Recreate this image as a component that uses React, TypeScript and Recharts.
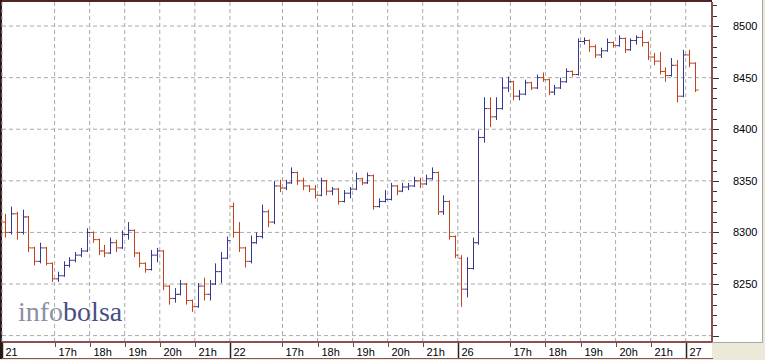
import React from 'react';
import { ComposedChart, Bar, XAxis, YAxis, CartesianGrid } from 'recharts';

// 10-minute OHLC bars per session: [open, high, low, close]
const day21 = [
  [8310, 8318, 8295, 8300], [8300, 8325, 8298, 8318], [8318, 8320, 8293, 8300], [8300, 8322, 8298, 8315],
  [8315, 8316, 8281, 8285], [8285, 8286, 8268, 8272], [8272, 8290, 8270, 8285], [8285, 8286, 8268, 8270],
  [8270, 8271, 8252, 8255], [8255, 8262, 8252, 8258], [8258, 8272, 8257, 8268], [8268, 8276, 8266, 8273],
  [8273, 8281, 8271, 8278], [8278, 8285, 8276, 8282], [8282, 8304, 8281, 8300], [8300, 8301, 8290, 8293],
  [8293, 8294, 8278, 8282], [8282, 8288, 8276, 8280], [8280, 8295, 8279, 8290], [8290, 8293, 8281, 8285],
  [8285, 8302, 8284, 8298], [8298, 8310, 8293, 8302], [8302, 8303, 8276, 8280], [8280, 8281, 8266, 8270],
  [8270, 8271, 8261, 8264], [8264, 8283, 8263, 8278], [8278, 8285, 8271, 8282], [8282, 8283, 8244, 8248],
  [8248, 8249, 8230, 8236], [8236, 8246, 8232, 8240], [8240, 8254, 8239, 8250], [8250, 8251, 8230, 8234],
  [8234, 8235, 8223, 8228], [8228, 8251, 8227, 8248], [8248, 8256, 8234, 8240], [8240, 8254, 8234, 8250],
  [8250, 8270, 8249, 8262], [8262, 8281, 8251, 8275], [8275, 8296, 8274, 8292],
];

const day22 = [
  [8325, 8329, 8295, 8300], [8300, 8310, 8281, 8285], [8285, 8286, 8266, 8272], [8272, 8297, 8270, 8290],
  [8290, 8300, 8289, 8296], [8296, 8327, 8294, 8320], [8320, 8322, 8305, 8310], [8310, 8350, 8308, 8345],
  [8345, 8351, 8339, 8343], [8343, 8351, 8341, 8348], [8348, 8363, 8347, 8358], [8358, 8359, 8346, 8350],
  [8350, 8353, 8341, 8345], [8345, 8346, 8339, 8342], [8342, 8346, 8333, 8336], [8336, 8353, 8335, 8350],
  [8350, 8351, 8336, 8340], [8340, 8344, 8336, 8342], [8342, 8343, 8327, 8330], [8330, 8341, 8329, 8338],
  [8338, 8344, 8333, 8342], [8342, 8358, 8341, 8352], [8352, 8353, 8346, 8348], [8348, 8358, 8347, 8355],
  [8355, 8356, 8322, 8325], [8325, 8333, 8324, 8330], [8330, 8341, 8329, 8332], [8332, 8348, 8331, 8345],
  [8345, 8346, 8336, 8340], [8340, 8348, 8339, 8344], [8344, 8348, 8341, 8345], [8345, 8354, 8344, 8350],
  [8350, 8353, 8343, 8347], [8347, 8356, 8346, 8352], [8352, 8363, 8351, 8358], [8358, 8359, 8317, 8320],
  [8320, 8336, 8317, 8330], [8330, 8331, 8293, 8296], [8296, 8297, 8275, 8278],
];

const day26 = [
  [8275, 8278, 8228, 8245], [8245, 8276, 8237, 8265], [8265, 8295, 8264, 8290], [8290, 8399, 8288, 8392],
  [8392, 8431, 8387, 8420], [8420, 8431, 8402, 8412], [8412, 8431, 8409, 8420], [8420, 8450, 8419, 8440],
  [8440, 8451, 8436, 8446], [8446, 8447, 8428, 8432], [8432, 8438, 8428, 8434], [8434, 8448, 8433, 8445],
  [8445, 8446, 8438, 8440], [8440, 8453, 8439, 8450], [8450, 8455, 8446, 8448], [8448, 8449, 8433, 8436],
  [8436, 8443, 8433, 8440], [8440, 8450, 8439, 8446], [8446, 8459, 8445, 8456], [8456, 8457, 8451, 8453],
  [8453, 8488, 8452, 8485], [8485, 8489, 8482, 8486], [8486, 8487, 8475, 8480], [8480, 8482, 8469, 8472],
  [8472, 8479, 8469, 8476], [8476, 8488, 8475, 8484], [8484, 8485, 8479, 8481], [8481, 8491, 8480, 8488],
  [8488, 8489, 8474, 8477], [8477, 8488, 8476, 8486], [8486, 8491, 8482, 8489], [8489, 8496, 8480, 8484],
  [8484, 8485, 8467, 8470], [8470, 8474, 8462, 8466], [8466, 8475, 8453, 8456], [8456, 8460, 8446, 8452],
  [8452, 8469, 8451, 8462], [8462, 8467, 8426, 8432], [8432, 8477, 8431, 8472],
];

const day27 = [
  [8472, 8477, 8460, 8464], [8464, 8465, 8436, 8438],
];

const sessions = [day21, day22, day26, day27];
const slotsPerSession = 39;

const xTicks = [0, 9, 15, 21, 27, 33, 39, 48, 54, 60, 66, 72, 78, 87, 93, 99, 105, 111, 117];
const xTickLabels = ['21', '17h', '18h', '19h', '20h', '21h', '22', '17h', '18h', '19h', '20h', '21h', '26', '17h', '18h', '19h', '20h', '21h', '27'];
const dayTicks = [0, 39, 78, 117];

const yTicks = [
  8200, 8210, 8220, 8230, 8240, 8250, 8260, 8270, 8280, 8290, 8300, 8310, 8320, 8330, 8340, 8350,
  8360, 8370, 8380, 8390, 8400, 8410, 8420, 8430, 8440, 8450, 8460, 8470, 8480, 8490, 8500, 8510, 8520,
];
const yLabels = [8250, 8300, 8350, 8400, 8450, 8500];
const yGrid = [8200, 8250, 8300, 8350, 8400, 8450, 8500];

const rows = sessions.flatMap((bars, d) =>
  bars.map((b, i) => ({
    slot: d * slotsPerSession + i + 0.5,
    open: b[0],
    high: b[1],
    low: b[2],
    close: b[3],
  }))
);

const FONT = "'Liberation Sans', Arial, sans-serif";
const AXIS_COLOR = '#8b4f4f';

function OhlcShape(props: any) {
  const { x, y, width, height, payload } = props;
  if (x == null || y == null || !payload) return null;
  const top = Math.min(y, y + height);
  const span = Math.abs(height);
  const range = payload.high - payload.low || 1;
  const yOpen = top + ((payload.high - payload.open) / range) * span;
  const yClose = top + ((payload.high - payload.close) / range) * span;
  const cx = Math.round(x + width / 2) + 0.5;
  const color = payload.close < payload.open ? '#c2441f' : '#38388c';
  return (
    <g stroke={color} strokeWidth={1}>
      <line x1={cx} x2={cx} y1={top} y2={top + Math.max(span, 1)} />
      <line x1={cx - 3} x2={cx} y1={yOpen} y2={yOpen} />
      <line x1={cx} x2={cx + 3} y1={yClose} y2={yClose} />
    </g>
  );
}

function TimeTick(props: any) {
  const { x, y, payload } = props;
  const idx = xTicks.indexOf(payload.value);
  const isDay = dayTicks.includes(payload.value);
  const px = Math.round(x) + 0.5;
  return (
    <g>
      <line
        x1={px}
        x2={px}
        y1={y + 1}
        y2={isDay ? y + 16 : y + 5}
        stroke={isDay ? '#222' : '#555'}
        strokeWidth={isDay ? 1.5 : 1}
      />
      <text x={px + 3} y={y + 14} fontSize={11} fontFamily={FONT} fill="#000">
        {xTickLabels[idx]}
      </text>
    </g>
  );
}

function PriceTick(props: any) {
  const { x, y, payload } = props;
  const major = payload.value % 50 === 0;
  const py = Math.round(y) + 0.5;
  return (
    <g>
      <line x1={x + 1} x2={x + (major ? 7 : 5)} y1={py} y2={py} stroke="#333" />
      {yLabels.includes(payload.value) && (
        <text x={x + 21} y={y + 4} fontSize={11} fontFamily={FONT} fill="#000">
          {payload.value}
        </text>
      )}
    </g>
  );
}

export default function App() {
  return (
    <div
      style={{
        position: 'absolute',
        left: 0,
        top: 0,
        width: 765,
        height: 360,
        background: '#ece9d8',
        overflow: 'hidden',
      }}
    >
      <div style={{ position: 'absolute', left: 0, top: 0, width: 712, height: 358, background: '#fff' }} />
      <div
        style={{
          position: 'absolute',
          left: 712,
          top: 0,
          width: 50,
          height: 342,
          background: '#fff',
          borderRight: '1px solid #a9a7a3',
          borderBottom: '1px solid #a9a7a3',
        }}
      />
      <div style={{ position: 'absolute', left: 0, top: 358, width: 713, height: 1, background: AXIS_COLOR }} />
      <div style={{ position: 'absolute', left: 0, top: 0, width: 712, height: 2, background: '#4e2626' }} />
      <div style={{ position: 'absolute', left: 0, top: 0, width: 2, height: 359, background: '#2e1616' }} />
      <div
        style={{
          position: 'absolute',
          left: 18,
          top: 296,
          fontFamily: "'Liberation Serif', serif",
          fontSize: 28,
          lineHeight: '32px',
        }}
      >
        <span style={{ color: '#8c8ea6' }}>info</span>
        <span style={{ color: '#465082' }}>bolsa</span>
      </div>
      <div style={{ position: 'absolute', left: 0, top: 0 }}>
        <ComposedChart
          width={765}
          height={360}
          data={rows}
          margin={{ top: 2, right: 0, bottom: 0, left: 2 }}
        >
          <CartesianGrid
            stroke="#ababab"
            strokeDasharray="4 3"
            horizontalValues={yGrid}
            verticalValues={xTicks}
          />
          <XAxis
            dataKey="slot"
            type="number"
            domain={[0, 121.5]}
            ticks={xTicks}
            interval={0}
            height={18}
            tickSize={0}
            tickMargin={0}
            tickLine={false}
            axisLine={{ stroke: AXIS_COLOR, strokeWidth: 2 }}
            tick={<TimeTick />}
            allowDataOverflow
          />
          <YAxis
            orientation="right"
            type="number"
            domain={[8193.8, 8523.3]}
            ticks={yTicks}
            interval={0}
            width={53}
            tickSize={0}
            tickMargin={0}
            tickLine={false}
            axisLine={{ stroke: AXIS_COLOR, strokeWidth: 2 }}
            tick={<PriceTick />}
            allowDataOverflow
          />
          <Bar
            dataKey={(d: any) => [d.low, d.high]}
            shape={<OhlcShape />}
            isAnimationActive={false}
          />
        </ComposedChart>
      </div>
    </div>
  );
}
